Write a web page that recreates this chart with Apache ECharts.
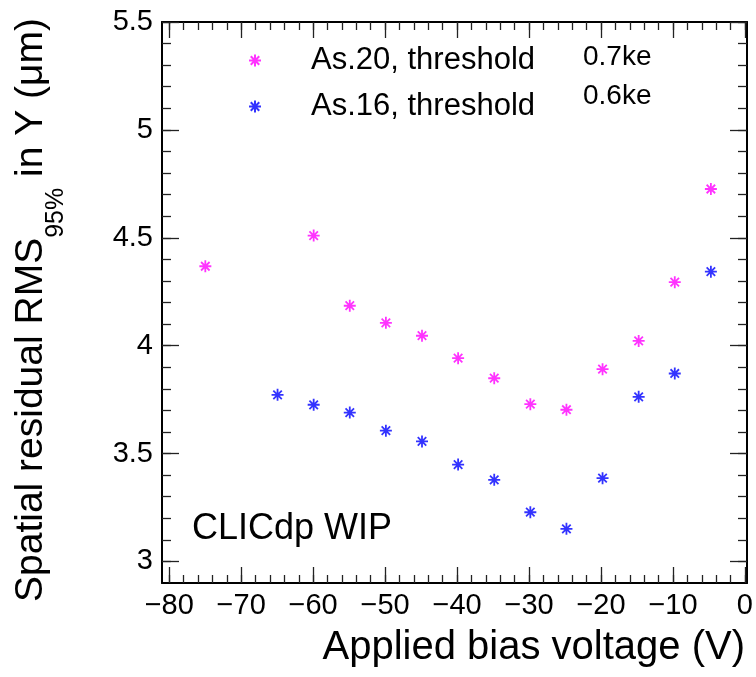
<!DOCTYPE html>
<html>
<head>
<meta charset="utf-8">
<script src="https://cdn.jsdelivr.net/npm/echarts@6/dist/echarts.min.js"></script>
<style>
  html, body { margin: 0; padding: 0; background: #fff; }
  #chart { width: 756px; height: 677px; }
</style>
</head>
<body>
<div id="chart"></div>
<script>
// ---- data ----
const voltage20 = [-75, -60, -55, -50, -45, -40, -35, -30, -25, -20, -15, -10, -5];
const rmsAs20   = [4.368, 4.510, 4.185, 4.106, 4.046, 3.942, 3.849, 3.729, 3.703, 3.891, 4.022, 4.294, 4.726];
const voltage16 = [-65, -60, -55, -50, -45, -40, -35, -30, -25, -20, -15, -10, -5];
const rmsAs16   = [3.772, 3.726, 3.690, 3.606, 3.556, 3.449, 3.378, 3.228, 3.151, 3.386, 3.763, 3.871, 4.343];
const seriesNames = ['As.20, threshold', 'As.16, threshold'];
const thresholds = ['0.7ke', '0.6ke'];
// axis ranges and tick settings
const xRange = [-81, 0];           // full frame range
const yRange = [2.9, 5.5];
const xTickRange = [-80, 0];       // labelled tick range
const yTickRange = [3, 5.5];
const xMajorStep = 10, xMinorStep = 2;
const yMajorStep = 0.5, yMinorStep = 0.1;

const FONT = "'Liberation Sans', Arial, Helvetica, sans-serif";
const MAGENTA = '#ff00ff';
const BLUE = '#0000ff';
const STAR = 'path://M0,5L10,5M5,0L5,10M1.46,1.46L8.54,8.54M1.46,8.54L8.54,1.46';

function pair(xs, ys) { return xs.map((x, i) => [x, ys[i]]); }
function fmtX(v) { return v < 0 ? '\u2212' + (-v) : String(v); }
function fmtY(v) { return String(+v.toFixed(1)); }

// frame geometry
const G = { left: 162, right: 9, top: 22, bottom: 94, W: 756, H: 677 };
const plotW = G.W - G.left - G.right, plotH = G.H - G.top - G.bottom;
const xTickGridLeft = G.left + (xTickRange[0] - xRange[0]) / (xRange[1] - xRange[0]) * plotW;
const yTickGridBottom = G.bottom + (yTickRange[0] - yRange[0]) / (yRange[1] - yRange[0]) * plotH;

const lineStyle = { color: '#000', width: 2 };
const tickLine = { color: '#222', width: 1.3 };
const hidden = (gi, range) => ({ type: 'value', gridIndex: gi, min: range[0], max: range[1], show: false });

function frameAxis(pos, range) {
  return { type: 'value', gridIndex: 0, position: pos, min: range[0], max: range[1],
    axisLine: { show: true, onZero: false, lineStyle },
    axisTick: { show: false }, axisLabel: { show: false }, splitLine: { show: false } };
}
function tickAxis(gi, pos, range, step, len, label, fmt, margin) {
  return { type: 'value', gridIndex: gi, position: pos, min: range[0], max: range[1], interval: step,
    axisLine: { show: false, onZero: false },
    axisTick: { show: true, inside: true, length: len, lineStyle: tickLine },
    axisLabel: { show: label, formatter: fmt, fontSize: 29, color: '#000', fontFamily: FONT, margin: margin,
      showMinLabel: true, showMaxLabel: true },
    splitLine: { show: false } };
}

const chart = echarts.init(document.getElementById('chart'), null, { renderer: 'canvas' });

const ctx = document.createElement('canvas').getContext('2d');
function tw(t, size) { ctx.font = size + 'px ' + FONT; return ctx.measureText(t).width; }
const yT1 = 'Spatial residual RMS', yT2 = '95%', yT3 = ' in Y (\u03bcm)';
const YS = 39, YSS = 25;
const w1 = tw(yT1, YS), w2 = tw(yT2, YSS);

const option = {
  animation: false,
  backgroundColor: '#fff',
  grid: [
    { left: G.left, right: G.right, top: G.top, bottom: G.bottom },
    { left: xTickGridLeft, right: G.right, top: G.top, bottom: G.bottom },
    { left: G.left, right: G.right, top: G.top, bottom: yTickGridBottom }
  ],
  xAxis: [
    frameAxis('bottom', xRange),
    frameAxis('top', xRange),
    tickAxis(1, 'bottom', xTickRange, xMajorStep, 16, true, fmtX, 8),
    tickAxis(1, 'bottom', xTickRange, xMinorStep, 8, false, fmtX, 8),
    tickAxis(1, 'top', xTickRange, xMajorStep, 16, false, fmtX, 8),
    tickAxis(1, 'top', xTickRange, xMinorStep, 8, false, fmtX, 8),
    hidden(2, xRange)
  ],
  yAxis: [
    frameAxis('left', yRange),
    frameAxis('right', yRange),
    hidden(1, yRange),
    tickAxis(2, 'left', yTickRange, yMajorStep, 17, true, fmtY, 9),
    tickAxis(2, 'left', yTickRange, yMinorStep, 9, false, fmtY, 9),
    tickAxis(2, 'right', yTickRange, yMajorStep, 17, false, fmtY, 9),
    tickAxis(2, 'right', yTickRange, yMinorStep, 9, false, fmtY, 9)
  ],
  legend: {
    orient: 'vertical', left: 243, top: 40,
    itemWidth: 12, itemHeight: 12, itemGap: 15,
    data: seriesNames,
    textStyle: { fontSize: 31, fontFamily: FONT, color: '#000', lineHeight: 30, padding: [0, 0, 0, 45] }
  },
  series: [
    { name: seriesNames[0], type: 'scatter', xAxisIndex: 0, yAxisIndex: 0,
      data: pair(voltage20, rmsAs20), symbol: STAR, symbolSize: 12,
      itemStyle: { color: 'rgba(0,0,0,0)', borderColor: MAGENTA, borderWidth: 1.8 } },
    { name: seriesNames[1], type: 'scatter', xAxisIndex: 0, yAxisIndex: 0,
      data: pair(voltage16, rmsAs16), symbol: STAR, symbolSize: 12,
      itemStyle: { color: 'rgba(0,0,0,0)', borderColor: BLUE, borderWidth: 1.8 } }
  ],
  graphic: [
    { type: 'text', left: 583, top: 43, style: { text: thresholds[0], font: '28px ' + FONT, fill: '#000' } },
    { type: 'text', left: 583, top: 82, style: { text: thresholds[1], font: '28px ' + FONT, fill: '#000' } },
    { type: 'text', left: 192, top: 511, style: { text: 'CLICdp WIP', font: '36px ' + FONT, fill: '#000' } },
    { type: 'text', right: 11, top: 628, style: { text: 'Applied bias voltage (V)', font: '40px ' + FONT, fill: '#000' } },
    { type: 'group', x: 31, y: 602, rotation: Math.PI / 2, children: [
      { type: 'text', x: 0, y: 0, style: { text: yT1, font: YS + 'px ' + FONT, fill: '#000', verticalAlign: 'middle', align: 'left' } },
      { type: 'text', x: w1, y: 25, style: { text: yT2, font: YSS + 'px ' + FONT, fill: '#000', verticalAlign: 'middle', align: 'left' } },
      { type: 'text', x: w1 + w2, y: 0, style: { text: yT3, font: YS + 'px ' + FONT, fill: '#000', verticalAlign: 'middle', align: 'left' } }
    ] }
  ]
};
chart.setOption(option);
</script>
</body>
</html>
